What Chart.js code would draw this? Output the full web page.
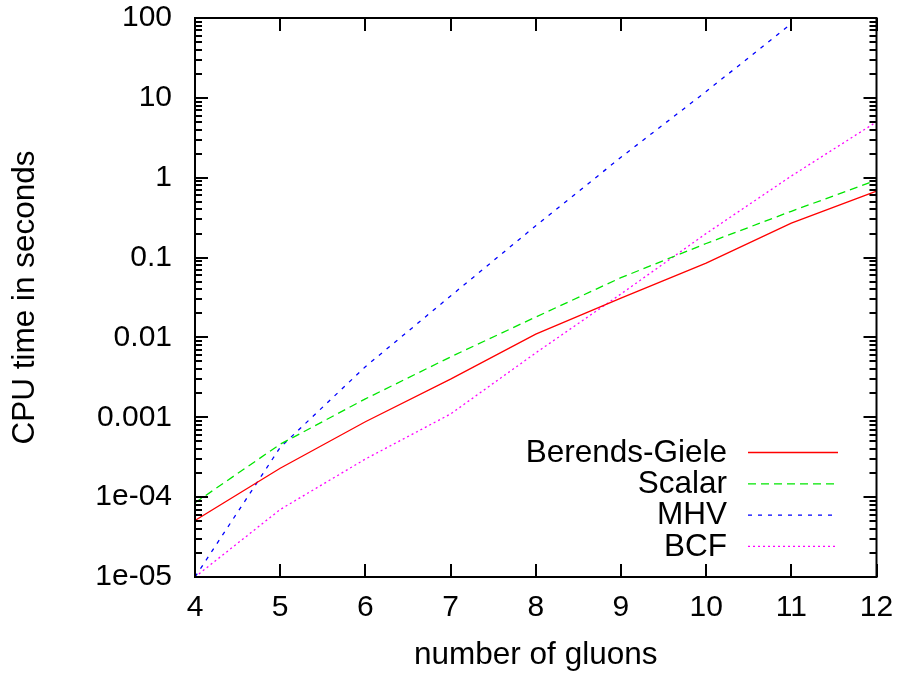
<!DOCTYPE html>
<html><head><meta charset="utf-8">
<script src="https://cdn.jsdelivr.net/npm/chart.js@4/dist/chart.umd.min.js"></script>
<style>html,body{margin:0;padding:0;background:#fff}#wrap{width:900px;height:675px}</style>
</head><body><div id="wrap"><canvas id="c" width="900" height="675"></canvas></div>
<script>
// ---- data ----
const gluons = [4, 5, 6, 7, 8, 9, 10, 11, 12];
const berendsGiele = [5.1e-5, 2.3e-4, 8.8e-4, 3.0e-3, 1.1e-2, 3.1e-2, 8.5e-2, 0.27, 0.68];
const scalar = [8.5e-5, 4.6e-4, 1.7e-3, 5.7e-3, 1.8e-2, 5.6e-2, 0.15, 0.38, 0.93];
const mhv = [1e-5, 4.2e-4, 4.3e-3, 3.3e-2, 0.25, 1.8, 12, 85];
const bcf = [1e-5, 7e-5, 3e-4, 1.1e-3, 6.4e-3, 3.5e-2, 0.2, 1.05, 5];
const seriesNames = ['Berends-Giele', 'Scalar', 'MHV', 'BCF'];
const yTickValues = [1e-5, 1e-4, 1e-3, 1e-2, 0.1, 1, 10, 100];
const yTickLabels = ['1e-05', '1e-04', '0.001', '0.01', '0.1', '1', '10', '100'];
const xTitle = 'number of gluons';
const yTitle = 'CPU time in seconds';

const FONT = '"Liberation Sans", Arial, Helvetica, sans-serif';
const FS = 30;     // tick labels
const FT = 31.5;   // titles and legend

function pts(arr) { return arr.map((v, i) => ({ x: gluons[i], y: v })); }

const frame = {
  id: 'frame',
  afterDatasetsDraw(chart) {
    const ctx = chart.ctx, a = chart.chartArea;
    const xs = chart.scales.x, ys = chart.scales.y;
    ctx.save();
    ctx.strokeStyle = '#000';
    ctx.lineWidth = 2;
    ctx.beginPath();
    for (let e = -5; e <= 2; e++) {
      for (let m = 1; m <= 9; m++) {
        const v = m * Math.pow(10, e);
        if (v > 100 * 1.0001) break;
        const y = Math.round(ys.getPixelForValue(v));
        const len = m === 1 ? 13 : 7;
        ctx.moveTo(a.left, y); ctx.lineTo(a.left + len, y);
        ctx.moveTo(a.right, y); ctx.lineTo(a.right - len, y);
      }
    }
    gluons.forEach(g => {
      const x = Math.round(xs.getPixelForValue(g));
      ctx.moveTo(x, a.bottom); ctx.lineTo(x, a.bottom - 13);
      ctx.moveTo(x, a.top); ctx.lineTo(x, a.top + 13);
    });
    ctx.stroke();
    ctx.strokeRect(a.left, a.top, a.right - a.left, a.bottom - a.top);

    ctx.font = FT + 'px ' + FONT;
    ctx.textAlign = 'right';
    ctx.textBaseline = 'middle';
    chart.data.datasets.forEach((ds, i) => {
      const y = 452 + i * 31.3;
      ctx.fillStyle = '#000';
      ctx.fillText(ds.label, 727, y + 1);
      ctx.save();
      ctx.strokeStyle = ds.borderColor;
      ctx.lineWidth = ds.borderWidth;
      ctx.setLineDash(ds.borderDash || []);
      ctx.beginPath();
      ctx.moveTo(748, y + 0.5); ctx.lineTo(838, y + 0.5);
      ctx.stroke();
      ctx.restore();
    });
    ctx.restore();
  }
};

const common = { fill: false, tension: 0, pointRadius: 0, pointHoverRadius: 0, borderWidth: 1.3 };

new Chart(document.getElementById('c'), {
  type: 'line',
  data: {
    datasets: [
      Object.assign({ label: seriesNames[0], data: pts(berendsGiele), borderColor: '#ff0000', borderDash: [] }, common),
      Object.assign({ label: seriesNames[1], data: pts(scalar), borderColor: '#00e600', borderDash: [8, 5] }, common),
      Object.assign({ label: seriesNames[2], data: pts(mhv), borderColor: '#0000ff', borderDash: [4, 6] }, common),
      Object.assign({ label: seriesNames[3], data: pts(bcf), borderColor: '#ff00ff', borderDash: [2, 3] }, common)
    ]
  },
  options: {
    responsive: false,
    animation: false,
    devicePixelRatio: 1,
    layout: { padding: { left: 0, top: 18, right: 23.5, bottom: 0 } },
    plugins: { legend: { display: false }, tooltip: { enabled: false } },
    scales: {
      x: {
        type: 'linear', min: 4, max: 12,
        grid: { display: false, drawTicks: false },
        border: { display: false },
        ticks: { stepSize: 1, padding: 13, color: '#000', font: { family: FONT, size: FS } },
        title: { display: true, text: xTitle, color: '#000', font: { family: FONT, size: FT }, padding: { top: 0, bottom: 0.5 } },
        afterFit(s) { s.height = 98; s.paddingLeft = 0; s.paddingRight = 0; }
      },
      y: {
        type: 'logarithmic', min: 1e-5, max: 100,
        grid: { display: false, drawTicks: false },
        border: { display: false },
        afterBuildTicks(s) { s.ticks = yTickValues.map(v => ({ value: v })); },
        ticks: {
          padding: 23, color: '#000', font: { family: FONT, size: FS },
          callback(v) {
            const i = yTickValues.findIndex(t => Math.abs(Math.log10(t) - Math.log10(v)) < 1e-6);
            return i >= 0 ? yTickLabels[i] : '';
          }
        },
        title: { display: true, text: yTitle, color: '#000', font: { family: FONT, size: FT }, padding: { top: 6, bottom: 0 } },
        afterFit(s) { s.width = 195; s.paddingTop = 0; s.paddingBottom = 0; }
      }
    }
  },
  plugins: [frame]
});
</script>
</body></html>
